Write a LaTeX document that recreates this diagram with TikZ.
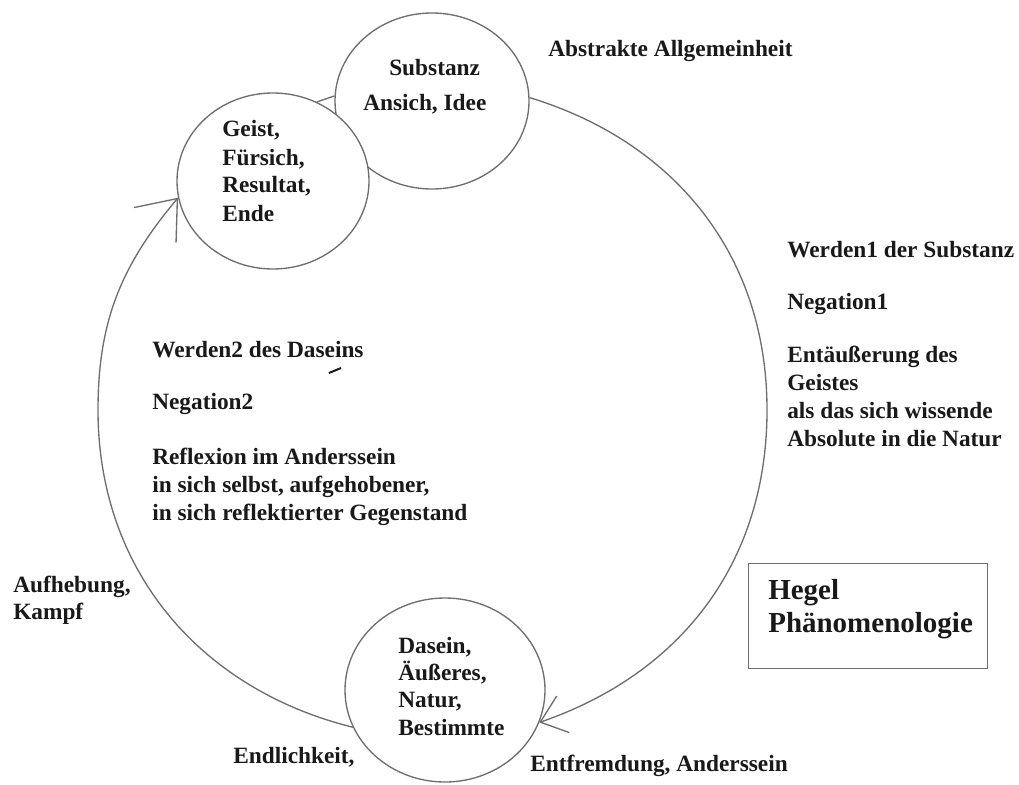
\documentclass[tikz,border=0pt]{standalone}
\usepackage{fontspec}
\setmainfont{Liberation Serif}
\usetikzlibrary{arrows.meta,shapes.geometric}
\definecolor{LineClr}{RGB}{110,110,110}
\definecolor{TextClr}{RGB}{25,25,25}

\tikzset{
  stage/.style={ellipse,draw=LineClr,line width=1pt,inner sep=0pt,fill=white},
  txt/.style={anchor=base west,align=left,inner sep=0pt,text=TextClr,
    font=\fontsize{17.5}{21}\selectfont\bfseries},
  flow/.style={draw=LineClr,line width=1pt},
}

\begin{document}
\begin{tikzpicture}[x=0.75pt,y=-0.75pt]
\useasboundingbox (0,0) rectangle (1019,784);

% The three stages on the circle (Geist lies over Substanz).
\node[stage,minimum width=145.5pt,minimum height=132pt] (sub) at (432,101) {};
\node[stage,minimum width=144pt,minimum height=132pt] (geist) at (273,181) {};
\node[stage,minimum width=150pt,minimum height=138pt] (dasein) at (445,690) {};

% Extreme points of the big circle.
\coordinate (rgt) at (767,410);
\coordinate (lft) at (98,410);

% The big circle, drawn in three pieces.
\draw[flow,-{Straight Barb[length=18pt,width=29pt]}]
  (sub.2) to[out=-17,in=90] (rgt) to[out=-90,in=19] (dasein.-19);
\draw[flow,-{Straight Barb[length=26pt,width=41pt]}]
  (dasein.-158) to[out=166,in=-90] (lft) to[out=90,in=-130] (geist.190);
\draw[flow] (geist.61) -- (sub.177);

% Texts in the stages (placed by the last line).
\node[txt] (subtxt) at (363,111) {\hspace*{19.5pt}Substanz\\[5.25pt]Ansich, Idee};
\node[txt] (geisttxt) at (222,221) {Geist,\\Fürsich,\\Resultat,\\Ende};
\node[txt,font=\fontsize{17.5}{20.5}\selectfont\bfseries] (daseintxt) at (398,735)
  {Dasein,\\Äußeres,\\Natur,\\Bestimmte};

% Texts round the circle.
\node[txt] (abstrakt) at (548,57) {Abstrakte Allgemeinheit};
\node[txt] (werdeneins) at (787,446)
  {Werden1 der Substanz\\[18pt]Negation1\\[18.75pt]Entäußerung des\\Geistes\\als das sich wissende\\Absolute in die Natur};
\node[txt] (werdenzwei) at (152,520)
  {Werden2 des Daseins\\[18pt]Negation2\\[20.25pt]Reflexion im Anderssein\\in sich selbst, aufgehobener,\\in sich reflektierter Gegenstand};
\node[txt,font=\fontsize{17.5}{20}\selectfont\bfseries] (aufhebung) at (13,619) {Aufhebung,\\Kampf};
\node[txt] (endlich) at (233,763) {Endlichkeit,};
\node[txt] (entfremd) at (530,771) {Entfremdung, Anderssein};

% Title box.
\node[draw=LineClr,line width=1pt,anchor=north west,inner sep=0pt,
  minimum width=179.25pt,minimum height=78.75pt] (hegelbox) at (748,563) {};
\node[txt,font=\fontsize{21.75}{24.75}\selectfont\bfseries] (hegel) at (768,632)
  {Hegel\\Phänomenologie};

% stray stroke
\draw[TextClr,line width=1.5pt] (329,373) -- (341,368);
\end{tikzpicture}
\end{document}
